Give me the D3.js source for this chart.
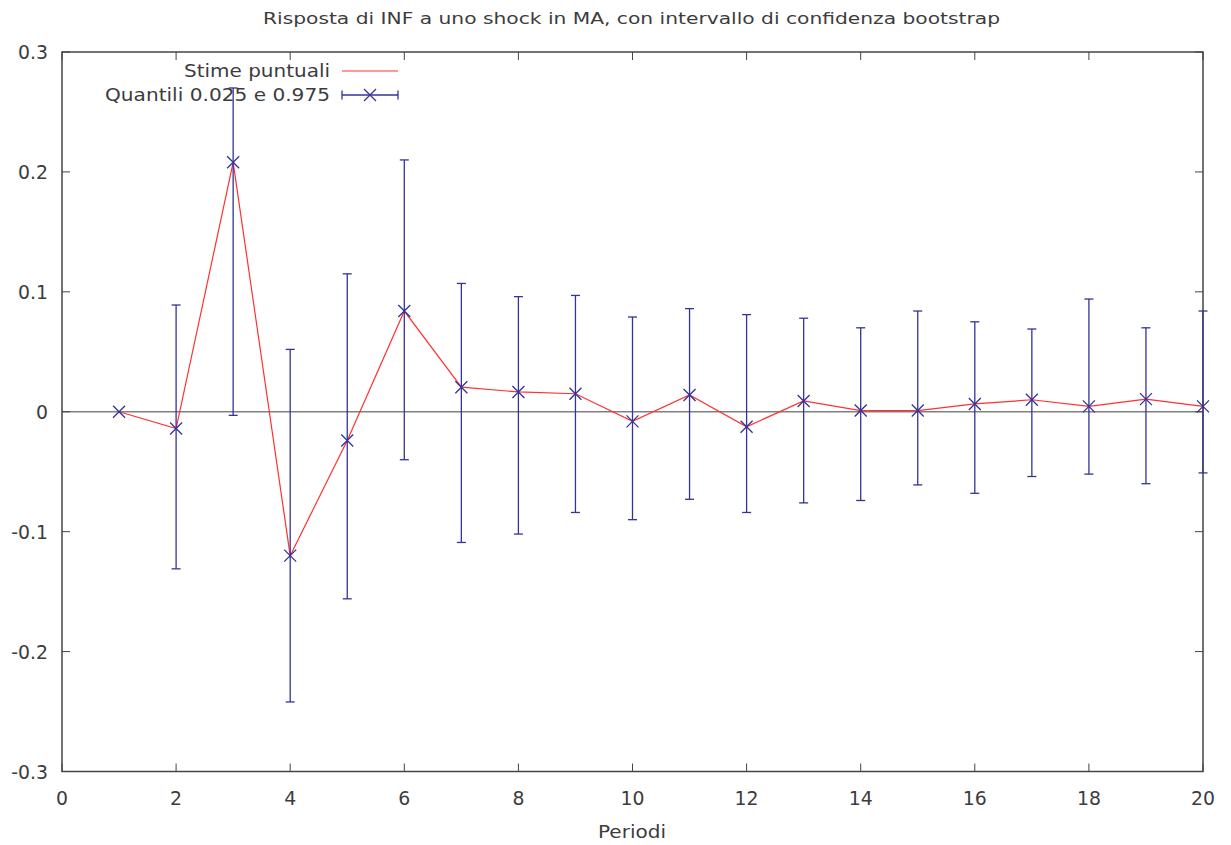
<!DOCTYPE html>
<html><head><meta charset="utf-8">
<script src="https://cdn.jsdelivr.net/npm/d3@7"></script>
<style>body{margin:0;background:#fff}svg{display:block}</style>
</head><body>
<svg id="c" width="1231" height="845" font-family="'DejaVu Sans', Verdana, 'Bitstream Vera Sans', sans-serif"></svg>
<script>
const periods = [1,2,3,4,5,6,7,8,9,10,11,12,13,14,15,16,17,18,19,20];
const estimates = [0,-0.014,0.208,-0.120,-0.024,0.084,0.0205,0.0165,0.015,-0.008,0.014,-0.0125,0.009,0.001,0.001,0.0065,0.010,0.0045,0.0105,0.0045];
const lower = [0,-0.131,-0.003,-0.242,-0.156,-0.040,-0.109,-0.102,-0.084,-0.090,-0.073,-0.084,-0.076,-0.074,-0.061,-0.068,-0.054,-0.052,-0.060,-0.051];
const upper = [0,0.089,0.270,0.052,0.115,0.210,0.107,0.096,0.097,0.079,0.086,0.081,0.078,0.070,0.084,0.075,0.069,0.094,0.070,0.084];
const xTicks = [0,2,4,6,8,10,12,14,16,18,20];
const yTicks = [-0.3,-0.2,-0.1,0,0.1,0.2,0.3];
const yTickLabels = ["-0.3","-0.2","-0.1","0","0.1","0.2","0.3"];
const title = "Risposta di INF a uno shock in MA, con intervallo di confidenza bootstrap";
const xLabel = "Periodi";
const legendLabels = ["Stime puntuali","Quantili 0.025 e 0.975"];

const L=62, R=1203, T=52, B=771.5;
const x = d3.scaleLinear().domain([0,20]).range([L,R]);
const y = d3.scaleLinear().domain([-0.3,0.3]).range([B,T]);
const svg = d3.select("#c");
const axisCol="#444", red="#ff3030", blue="#33339a", txt="#3c3c3c";

// calibrate digit font size so a digit is ~12px wide
const probe = svg.append("text").attr("font-size",18).text("0000000000");
const pw = probe.node().getComputedTextLength();
probe.remove();
const fs = pw>0 ? 18*120/pw : 18;

function fit(sel, w){ sel.attr("textLength",w).attr("lengthAdjust","spacingAndGlyphs"); return sel; }

// zero axis
svg.append("line").attr("x1",L).attr("x2",R).attr("y1",y(0)).attr("y2",y(0))
  .attr("stroke","#808080").attr("stroke-width",1.6);

// ticks (inward, mirrored)
const tl=8;
const g=svg.append("g").attr("stroke",axisCol).attr("stroke-width",1);
xTicks.forEach(t=>{
  g.append("line").attr("x1",x(t)).attr("x2",x(t)).attr("y1",B).attr("y2",B-tl);
  g.append("line").attr("x1",x(t)).attr("x2",x(t)).attr("y1",T).attr("y2",T+tl);
});
yTicks.forEach(t=>{
  g.append("line").attr("x1",L).attr("x2",L+tl).attr("y1",y(t)).attr("y2",y(t));
  g.append("line").attr("x1",R).attr("x2",R-tl).attr("y1",y(t)).attr("y2",y(t));
});
svg.append("rect").attr("x",L).attr("y",T).attr("width",R-L).attr("height",B-T)
  .attr("fill","none").attr("stroke",axisCol).attr("stroke-width",1.5);

// tick labels
svg.append("g").attr("fill",txt).selectAll("text").data(xTicks).join("text")
  .attr("x",d=>x(d)).attr("y",B+33).attr("text-anchor","middle").attr("font-size",fs).text(d=>d);
svg.append("g").attr("fill",txt).selectAll("text").data(yTicks).join("text")
  .attr("x",L-14).attr("y",d=>y(d)+7).attr("text-anchor","end").attr("font-size",fs).text((d,i)=>yTickLabels[i]);

// title & label
fit(svg.append("text").attr("x",263).attr("y",24).attr("fill",txt).attr("font-size",16.5).text(title),737);
fit(svg.append("text").attr("x",598).attr("y",838).attr("fill",txt).attr("font-size",17).text(xLabel),68);

// line
const line=d3.line().x((d,i)=>x(periods[i])).y(d=>y(d));
svg.append("path").attr("d",line(estimates)).attr("fill","none").attr("stroke",red).attr("stroke-width",1.2);

// error bars
const eb=svg.append("g").attr("stroke",blue).attr("stroke-width",1.3);
periods.forEach((p,i)=>{
  if(upper[i]===lower[i]) return;
  const cx=x(p);
  eb.append("line").attr("x1",cx).attr("x2",cx).attr("y1",y(lower[i])).attr("y2",y(upper[i]));
  eb.append("line").attr("x1",cx-4.5).attr("x2",cx+4.5).attr("y1",y(lower[i])).attr("y2",y(lower[i]));
  eb.append("line").attr("x1",cx-4.5).attr("x2",cx+4.5).attr("y1",y(upper[i])).attr("y2",y(upper[i]));
});
const ms=6;
periods.forEach((p,i)=>{
  const cx=x(p), cy=y(estimates[i]);
  eb.append("path").attr("d",`M${cx-ms},${cy-ms}L${cx+ms},${cy+ms}M${cx-ms},${cy+ms}L${cx+ms},${cy-ms}`);
});

// legend
fit(svg.append("text").attr("x",184).attr("y",77).attr("fill",txt).attr("font-size",17).text(legendLabels[0]),146);
svg.append("line").attr("x1",342).attr("x2",398).attr("y1",71).attr("y2",71).attr("stroke",red).attr("stroke-width",1.2);
fit(svg.append("text").attr("x",105).attr("y",101).attr("fill",txt).attr("font-size",17).text(legendLabels[1]),225);
const lg=svg.append("g").attr("stroke",blue).attr("stroke-width",1.3);
lg.append("line").attr("x1",342).attr("x2",398).attr("y1",95).attr("y2",95);
lg.append("line").attr("x1",342).attr("x2",342).attr("y1",90.5).attr("y2",99.5);
lg.append("line").attr("x1",398).attr("x2",398).attr("y1",90.5).attr("y2",99.5);
lg.append("path").attr("d",`M${370-ms},${95-ms}L${370+ms},${95+ms}M${370-ms},${95+ms}L${370+ms},${95-ms}`);
</script>
</body></html>
